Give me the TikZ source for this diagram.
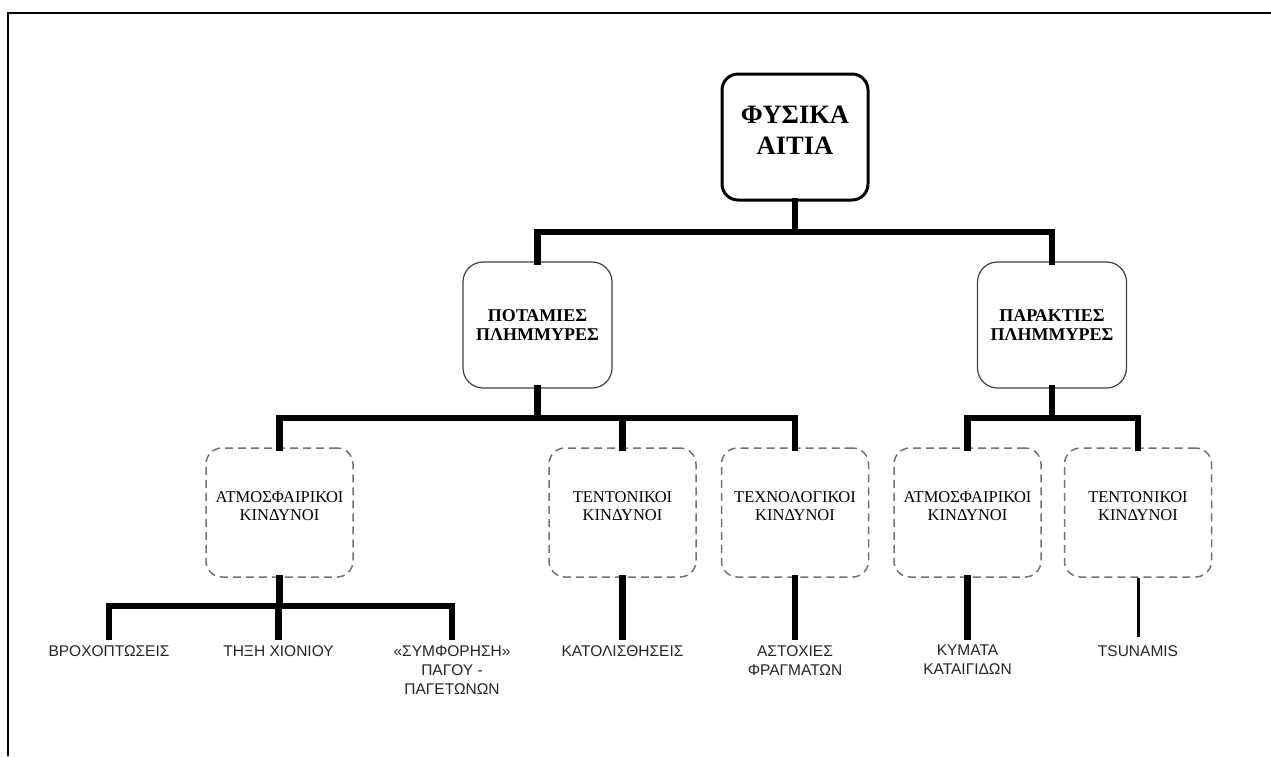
\documentclass[tikz,border=0pt]{standalone}
\usepackage{fontspec}
\setmainfont{Liberation Serif}
\newfontfamily\leaffont{Liberation Sans}
\begin{document}
\begin{tikzpicture}[x=1pt,y=-1pt,
  rootbox/.style={draw=black,line width=3pt,rounded corners=16pt,fill=white,
    minimum width=146pt,minimum height=126pt,align=center,inner sep=0pt,
    font=\fontsize{26.5}{31}\selectfont\bfseries},
  midbox/.style={draw=black!75,line width=1.2pt,rounded corners=20pt,fill=white,
    minimum width=149pt,minimum height=126pt,align=center,inner sep=0pt,
    font=\fontsize{18}{19}\selectfont\bfseries},
  riskbox/.style={draw=black!55,line width=1.5pt,dash pattern=on 8pt off 5pt,rounded corners=16pt,
    minimum width=147pt,minimum height=129pt,align=center,inner sep=0pt,
    font=\fontsize{16.5}{18}\selectfont},
  leaf/.style={anchor=north,align=center,inner xsep=0pt,inner ysep=8pt,text=black!85,
    font=\leaffont\fontsize{15.5}{19}\selectfont},
  conn/.style={line width=6.5pt,line join=miter,line cap=rect},
  thinconn/.style={line width=3pt}
]
\useasboundingbox (0,0) rectangle (1271,756);
\fill[white] (0,0) rectangle (1271,756);
% frame
\coordinate (fA) at (8,756);
\coordinate (fB) at (8,13);
\coordinate (fC) at (1271,13);
\draw[line width=2pt] (fA) -- (fB) -- (fC);

% nodes
\node[rootbox] (root) at (795,137) {ΦΥΣΙΚΑ\\ΑΙΤΙΑ\\[-18pt]};
\node[midbox] (pot) at (537.5,325) {ΠΟΤΑΜΙΕΣ\\ΠΛΗΜΜΥΡΕΣ};
\node[midbox] (par) at (1052,325) {ΠΑΡΑΚΤΙΕΣ\\ΠΛΗΜΜΥΡΕΣ};

\node[riskbox] (atm1) at (279.5,512.5) {ΑΤΜΟΣΦΑΙΡΙΚΟΙ\\ΚΙΝΔΥΝΟΙ\\[-6pt]};
\node[riskbox] (tek1) at (622.5,512.5) {ΤΕΝΤΟΝΙΚΟΙ\\ΚΙΝΔΥΝΟΙ\\[-6pt]};
\node[riskbox] (tech) at (795,512.5) {ΤΕΧΝΟΛΟΓΙΚΟΙ\\ΚΙΝΔΥΝΟΙ\\[-6pt]};
\node[riskbox] (atm2) at (967.5,512.5) {ΑΤΜΟΣΦΑΙΡΙΚΟΙ\\ΚΙΝΔΥΝΟΙ\\[-6pt]};
\node[riskbox] (tek2) at (1138,512.5) {ΤΕΝΤΟΝΙΚΟΙ\\ΚΙΝΔΥΝΟΙ\\[-6pt]};

\node[leaf] (l1) at (109,637) {ΒΡΟΧΟΠΤΩΣΕΙΣ};
\node[leaf] (l2) at (278.5,637) {ΤΗΞΗ ΧΙΟΝΙΟΥ};
\node[leaf] (l3) at (452,637) {«ΣΥΜΦΟΡΗΣΗ»\\ΠΑΓΟΥ -\\ΠΑΓΕΤΩΝΩΝ};
\node[leaf] (l4) at (622.5,637) {ΚΑΤΟΛΙΣΘΗΣΕΙΣ};
\node[leaf] (l5) at (795,637) {ΑΣΤΟΧΙΕΣ\\ΦΡΑΓΜΑΤΩΝ};
\node[leaf] (l6) at (967.5,637) {ΚΥΜΑΤΑ\\ΚΑΤΑΙΓΙΔΩΝ};
\node[leaf] (l7) at (1138,637) {TSUNAMIS};

% bar levels
\coordinate (b1) at (795,232);
\coordinate (b2) at (537.5,418);
\coordinate (b3) at (1052,418);
\coordinate (b4) at (279.5,606);

% connectors
\draw[conn] (root.south) -- (root.south |- b1);
\draw[conn] (pot.north) -- (pot.north |- b1) -- (par.north |- b1) -- (par.north);

\draw[conn] (pot.south) -- (pot.south |- b2);
\draw[conn] (atm1.north) -- (atm1.north |- b2) -- (tech.north |- b2) -- (tech.north);
\draw[conn] (tek1.north) -- (tek1.north |- b2);

\draw[conn] (par.south) -- (par.south |- b3);
\draw[conn] (atm2.north) -- (atm2.north |- b3) -- (tek2.north |- b3) -- (tek2.north);

\draw[conn] (atm1.south) -- (atm1.south |- b4);
\draw[conn] (l1.north) -- (l1.north |- b4) -- (l3.north |- b4) -- (l3.north);
\draw[conn] (l2.north) -- (l2.north |- b4);

\draw[conn] (tek1.south) -- (l4.north);
\draw[conn] (tech.south) -- (l5.north);
\draw[conn] (atm2.south) -- (l6.north);
\draw[thinconn] (tek2.south) -- (l7.north);
\end{tikzpicture}
\end{document}
